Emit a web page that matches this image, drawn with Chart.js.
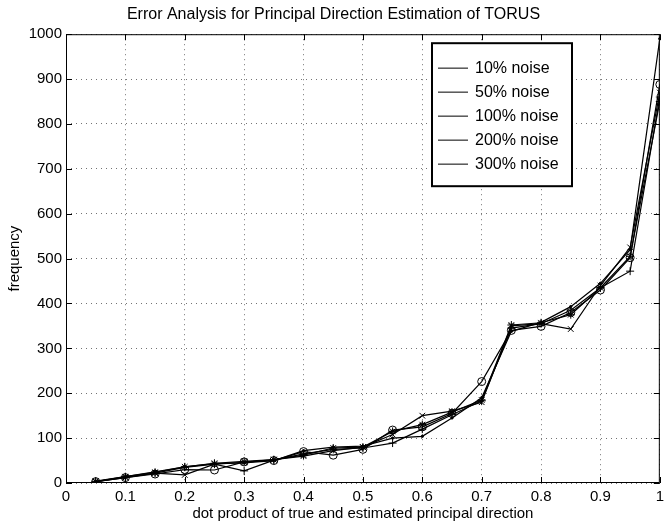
<!DOCTYPE html>
<html>
<head>
<meta charset="utf-8">
<script src="https://cdn.jsdelivr.net/npm/chart.js@4/dist/chart.umd.min.js"></script>
<style>
  html, body { margin: 0; padding: 0; background: #fff; }
  #wrap { width: 669px; height: 523px; }
</style>
</head>
<body>
<div id="wrap"><canvas id="torusChart" width="669" height="523"></canvas></div>
<script>
// dot product bins (x) and frequency per noise level
const dotProduct = [0.05, 0.1, 0.15, 0.2, 0.25, 0.3, 0.35, 0.4, 0.45, 0.5,
                    0.55, 0.6, 0.65, 0.7, 0.75, 0.8, 0.85, 0.9, 0.95, 1.0];
const noiseLabels = ["10% noise", "50% noise", "100% noise", "200% noise", "300% noise"];
const noise10  = [3, 13, 22, 35, 42, 27, 51, 65, 75, 78, 89, 120, 152, 183, 345, 355, 385, 435, 472, 860];
const noise50  = [3, 12, 20, 30, 29, 47, 50, 70, 62, 75, 118, 125, 155, 226, 340, 349, 380, 430, 502, 888];
const noise100 = [4, 14, 24, 36, 44, 48, 52, 62, 78, 80, 115, 130, 158, 185, 352, 357, 375, 435, 505, 850];
const noise200 = [3, 12, 22, 18, 42, 46, 52, 60, 72, 80, 108, 150, 160, 180, 350, 355, 343, 440, 525, 870];
const noise300 = [3, 14, 25, 36, 43, 45, 50, 72, 80, 82, 100, 104, 145, 190, 338, 358, 393, 445, 520, 990];
const markers  = ["cross", "circle", "star", "crossRot", "circle"];
const markerSize = [4, 4, 4, 4, 1.2];
const xTicks = [0, 0.1, 0.2, 0.3, 0.4, 0.5, 0.6, 0.7, 0.8, 0.9, 1];
const yTicks = [0, 100, 200, 300, 400, 500, 600, 700, 800, 900, 1000];

const allSeries = [noise10, noise50, noise100, noise200, noise300];

Chart.defaults.font.family = "'Liberation Sans', Arial, Helvetica, sans-serif";
Chart.defaults.color = "#000";

const datasets = allSeries.map(function (vals, i) {
    return {
        label: noiseLabels[i],
        data: vals.map((v, k) => ({ x: dotProduct[k], y: v })),
        borderColor: "#000",
        borderWidth: 1.2,
        pointStyle: markers[i],
        pointRadius: markerSize[i],
        pointBorderColor: "#000",
        pointBorderWidth: 1,
        pointBackgroundColor: i === 4 ? "#000" : "rgba(0,0,0,0)",
        tension: 0,
        fill: false
    };
});

// box, inward ticks and legend drawn like a matlab figure
const matlabFrame = {
    id: "matlabFrame",
    afterDraw(chart) {
        const ctx = chart.ctx;
        const a = chart.chartArea;
        const xs = chart.scales.x, ys = chart.scales.y;
        ctx.save();
        ctx.strokeStyle = "#000";
        ctx.lineWidth = 1;
        ctx.strokeRect(a.left + 0.5, a.top + 0.5, a.right - a.left - 1, a.bottom - a.top - 1);

        ctx.beginPath();
        xTicks.forEach(t => {
            const px = Math.round(xs.getPixelForValue(t)) + 0.5;
            ctx.moveTo(px, a.bottom); ctx.lineTo(px, a.bottom - 6);
            ctx.moveTo(px, a.top); ctx.lineTo(px, a.top + 6);
        });
        yTicks.forEach(t => {
            const py = Math.round(ys.getPixelForValue(t)) + 0.5;
            ctx.moveTo(a.left, py); ctx.lineTo(a.left + 6, py);
            ctx.moveTo(a.right, py); ctx.lineTo(a.right - 6, py);
        });
        ctx.stroke();

        // legend
        const bx = a.left + 366, by = a.top + 9, bw = 140, bh = 143;
        ctx.fillStyle = "#fff";
        ctx.fillRect(bx, by, bw, bh);
        ctx.lineWidth = 2;
        ctx.strokeRect(bx, by, bw, bh);
        ctx.font = "16px 'Liberation Sans', Arial, sans-serif";
        ctx.textBaseline = "middle";
        ctx.textAlign = "left";
        chart.data.datasets.forEach((ds, i) => {
            const ry = by + 25 + i * 24;
            ctx.strokeStyle = "#555";
            ctx.lineWidth = 1.5;
            ctx.beginPath();
            ctx.moveTo(bx + 6, ry); ctx.lineTo(bx + 36, ry);
            ctx.stroke();
            ctx.fillStyle = "#000";
            ctx.fillText(ds.label, bx + 43, ry);
        });
        ctx.restore();
    }
};

new Chart(document.getElementById("torusChart").getContext("2d"), {
    type: "line",
    data: { datasets: datasets },
    options: {
        responsive: false,
        animation: false,
        layout: { padding: { top: 0, left: 0, right: 2, bottom: 0 } },
        plugins: {
            legend: { display: false },
            tooltip: { enabled: false },
            title: {
                display: true,
                text: "Error Analysis for Principal Direction Estimation of TORUS",
                font: { size: 16, weight: "normal" },
                padding: { top: 5, bottom: 10 },
                color: "#000"
            }
        },
        scales: {
            x: {
                type: "linear",
                min: 0,
                max: 1,
                afterFit(scale) { scale.height = 40; },
                afterBuildTicks(scale) { scale.ticks = xTicks.map(v => ({ value: v })); },
                ticks: {
                    font: { size: 15 },
                    padding: 5,
                    maxRotation: 0,
                    callback: v => String(+v.toFixed(1))
                },
                grid: { color: "rgba(0,0,0,0.55)", drawTicks: false, lineWidth: 1 },
                border: { display: false, dash: [1, 4] },
                title: {
                    display: true,
                    text: "dot product of true and estimated principal direction",
                    font: { size: 15 },
                    padding: { top: 0, bottom: 0 }
                }
            },
            y: {
                min: 0,
                max: 1000,
                afterFit(scale) { scale.width = 66; },
                afterBuildTicks(scale) { scale.ticks = yTicks.map(v => ({ value: v })); },
                ticks: { font: { size: 15 }, padding: 4, callback: v => String(v) },
                grid: { color: "rgba(0,0,0,0.55)", drawTicks: false, lineWidth: 1 },
                border: { display: false, dash: [1, 4] },
                title: {
                    display: true,
                    text: "frequency",
                    font: { size: 15 },
                    padding: { top: 6, bottom: 0 }
                }
            }
        }
    },
    plugins: [matlabFrame]
});
</script>
</body>
</html>
